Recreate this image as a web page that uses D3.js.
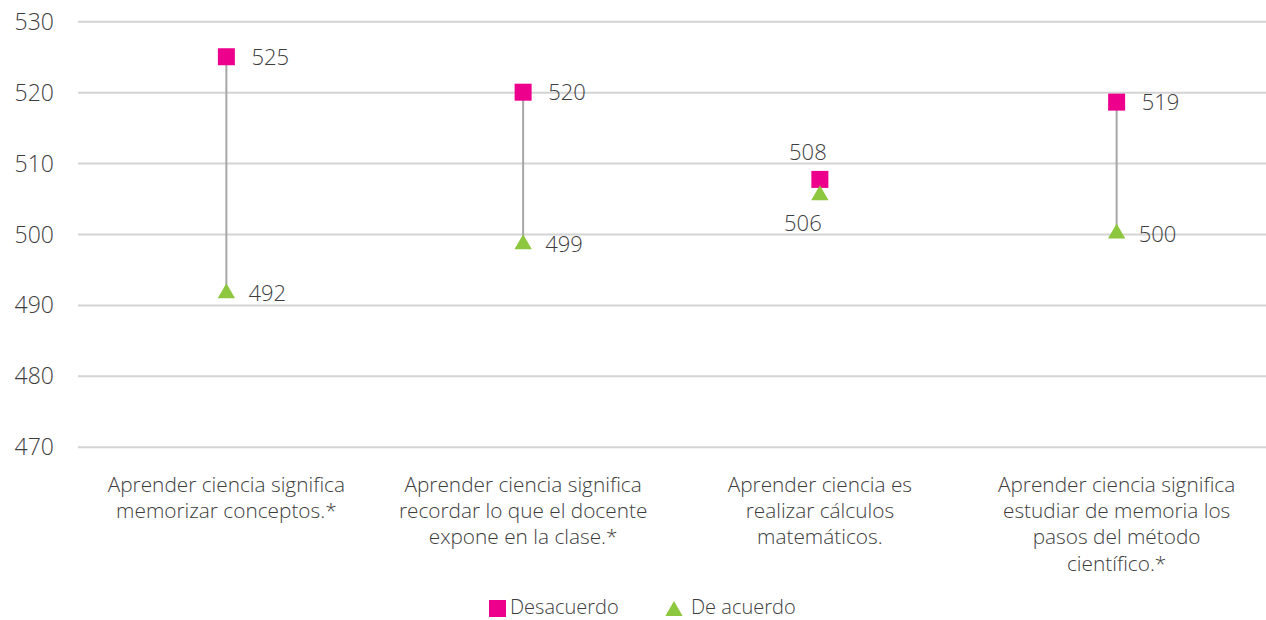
<!DOCTYPE html>
<html>
<head>
<meta charset="utf-8">
<script src="https://cdn.jsdelivr.net/npm/d3@7"></script>
<style>
  body { margin: 0; background: #fff; }
  svg text { font-family: "Open Sans", Lato, sans-serif; font-weight: 300; fill: #3d3d3d; }
</style>
</head>
<body>
<div></div>
<script>
// datos
const categories = [
  ["Aprender ciencia significa", "memorizar conceptos.*"],
  ["Aprender ciencia significa", "recordar lo que el docente", "expone en la clase.*"],
  ["Aprender ciencia es", "realizar cálculos", "matemáticos."],
  ["Aprender ciencia significa", "estudiar de memoria los", "pasos del método", "científico.*"]
];
const desacuerdo = [525.0, 520.0, 507.7, 518.6];
const deAcuerdo = [491.8, 498.7, 505.6, 500.2];
const yTicks = [470, 480, 490, 500, 510, 520, 530];
const seriesNames = ["Desacuerdo", "De acuerdo"];

const Width = 1266, Height = 620;
const pink = "#EC008C", green = "#8DC63F";

const svg = d3.select(document.body).select("div")
    .append("svg").attr("width", Width).attr("height", Height);

//escalas
const xScale = d3.scaleBand().domain(d3.range(categories.length)).range([78, 1265]);
const yScale = d3.scaleLinear().domain([470, 530]).range([446.7, 21.3]);
const cx = i => xScale(i) + xScale.bandwidth() / 2;

//eje Y con lineas de cuadricula
const yAxis = d3.axisLeft(yScale).tickValues(yTicks).tickSize(-(1266 - 78)).tickPadding(24);
const gy = svg.append("g").attr("transform", "translate(78,0)").call(yAxis);
gy.select(".domain").remove();
gy.selectAll(".tick line").attr("stroke", "#d4d4d4").attr("stroke-width", 2);
gy.selectAll(".tick text").attr("font-size", 23).attr("dy", "0.35em")
    .style("font-family", "'Open Sans', sans-serif").attr("fill", "#3d3d3d");

//etiquetas de categorias
categories.forEach((lines, i) => {
    const t = svg.append("text").attr("text-anchor", "middle").attr("font-size", 20.8)
        .attr("x", cx(i)).attr("y", 492);
    lines.forEach((l, j) => {
        t.append("tspan").attr("x", cx(i)).attr("dy", j === 0 ? 0 : 26.2).text(l);
    });
});

//lineas conectoras
svg.selectAll(".link").data(desacuerdo).enter().append("line")
    .attr("class", "link")
    .attr("x1", (d, i) => cx(i)).attr("x2", (d, i) => cx(i))
    .attr("y1", d => yScale(d)).attr("y2", (d, i) => yScale(deAcuerdo[i]))
    .attr("stroke", "#a6a6a6").attr("stroke-width", 2);

//marcadores
const sq = 17;
svg.selectAll(".sq").data(desacuerdo).enter().append("rect")
    .attr("class", "sq")
    .attr("x", (d, i) => cx(i) - sq / 2).attr("y", d => yScale(d) - sq / 2)
    .attr("width", sq).attr("height", sq).attr("fill", pink);

const tri = d3.symbol().type(d3.symbolTriangle).size(130);
svg.selectAll(".tri").data(deAcuerdo).enter().append("path")
    .attr("class", "tri")
    .attr("transform", (d, i) => "translate(" + cx(i) + "," + (yScale(d) + 1) + ")")
    .attr("d", tri).attr("fill", green);

//etiquetas de valores: posicion relativa al marcador
const topPos = ["right", "right", "above", "right"];
const botPos = ["right", "right", "below", "right"];
svg.selectAll(".vtop").data(desacuerdo).enter().append("text")
    .attr("font-size", 22)
    .attr("text-anchor", (d, i) => topPos[i] === "right" ? "start" : "middle")
    .attr("x", (d, i) => topPos[i] === "right" ? cx(i) + 25 : cx(i) - 12)
    .attr("y", (d, i) => topPos[i] === "right" ? yScale(d) + 8 : yScale(d) - 19)
    .text(d => Math.round(d));
svg.selectAll(".vbot").data(deAcuerdo).enter().append("text")
    .attr("font-size", 22)
    .attr("text-anchor", (d, i) => botPos[i] === "right" ? "start" : "middle")
    .attr("x", (d, i) => botPos[i] === "right" ? cx(i) + 22 : cx(i) - 17)
    .attr("y", (d, i) => botPos[i] === "right" ? yScale(d) + 9 : yScale(d) + 37)
    .text(d => Math.round(d));

//leyenda
const legend = svg.append("g");
legend.append("rect").attr("x", 489).attr("y", 600).attr("width", 17).attr("height", 17).attr("fill", pink);
legend.append("text").attr("x", 510).attr("y", 614).attr("font-size", 20).text(seriesNames[0]);
legend.append("path").attr("transform", "translate(674,611)").attr("d", tri).attr("fill", green);
legend.append("text").attr("x", 691).attr("y", 614).attr("font-size", 20).text(seriesNames[1]);
</script>
</body>
</html>
